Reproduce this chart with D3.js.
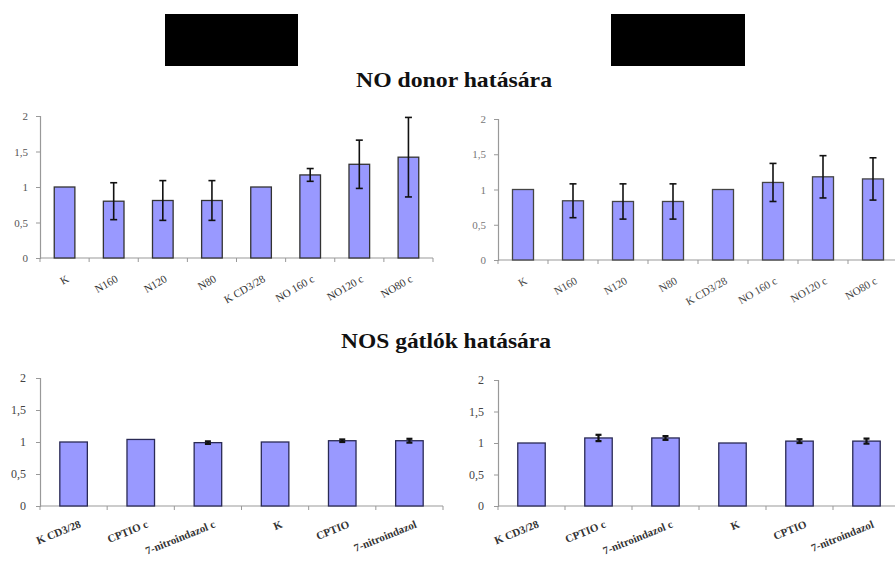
<!DOCTYPE html>
<html>
<head>
<meta charset="utf-8">
<script src="https://cdn.jsdelivr.net/npm/d3@7"></script>
<style>
  html, body { margin: 0; padding: 0; background: #fff; }
  svg { display: block; }
</style>
</head>
<body>
<svg id="chart" width="895" height="562"></svg>
<script>
// ---- data ----
const titleTop = "NO donor hatására";
const titleBottom = "NOS gátlók hatására";

const yTicks = [0, 0.5, 1, 1.5, 2];
const yTickLabels = ["0", "0,5", "1", "1,5", "2"];

const catsTop = ["K", "N160", "N120", "N80", "K CD3/28", "NO 160 c", "NO120 c", "NO80 c"];
const topLeftValues = [1.0, 0.80, 0.81, 0.81, 1.0, 1.17, 1.32, 1.42];
const topLeftErrors = [0, 0.26, 0.28, 0.28, 0, 0.09, 0.34, 0.56];
const topRightValues = [1.0, 0.84, 0.83, 0.83, 1.0, 1.10, 1.18, 1.15];
const topRightErrors = [0, 0.24, 0.25, 0.25, 0, 0.27, 0.30, 0.30];

const catsBottom = ["K CD3/28", "CPTIO c", "7-nitroindazol c", "K", "CPTIO", "7-nitroindazol"];
const bottomLeftValues = [1.0, 1.04, 0.99, 1.0, 1.02, 1.02];
const bottomLeftErrors = [0, 0, 0.02, 0, 0.02, 0.03];
const bottomRightValues = [1.0, 1.08, 1.08, 1.0, 1.03, 1.03];
const bottomRightErrors = [0, 0.05, 0.03, 0, 0.03, 0.04];

// ---- drawing ----
const svg = d3.select("#chart");
const SERIF = "'Liberation Serif'";

// redaction boxes
svg.append("rect").attr("x", 165).attr("y", 14).attr("width", 133).attr("height", 52).attr("fill", "#000");
svg.append("rect").attr("x", 611).attr("y", 14).attr("width", 134).attr("height", 52).attr("fill", "#000");

svg.append("text").attr("x", 454).attr("y", 87).attr("text-anchor", "middle")
  .style("font-family", SERIF).style("font-size", "21px").style("font-weight", "bold")
  .attr("textLength", 196).attr("lengthAdjust", "spacingAndGlyphs")
  .attr("fill", "#111").text(titleTop);
svg.append("text").attr("x", 446).attr("y", 348).attr("text-anchor", "middle")
  .style("font-family", SERIF).style("font-size", "22px").style("font-weight", "bold")
  .attr("textLength", 210).attr("lengthAdjust", "spacingAndGlyphs")
  .attr("fill", "#111").text(titleBottom);

function drawChart(cfg) {
  const g = svg.append("g");
  const x = d3.scaleBand().domain(cfg.cats).range([cfg.x0, cfg.x1])
    .paddingInner(cfg.pad).paddingOuter(cfg.pad / 2);
  const y = d3.scaleLinear().domain([0, 2]).range([cfg.y0, cfg.y2]);

  // y axis
  const yAxis = d3.axisLeft(y).tickValues(yTicks)
    .tickFormat((d, i) => yTickLabels[i]).tickSize(4).tickPadding(cfg.tickPad);
  const ya = g.append("g").attr("transform", `translate(${cfg.x0},0)`).call(yAxis);
  ya.attr("font-family", null).attr("font-size", null);
  ya.select(".domain").attr("stroke", "#999").attr("stroke-width", 1.2);
  ya.selectAll(".tick line").attr("stroke", "#999");
  ya.selectAll(".tick text").style("font-family", SERIF)
    .style("font-size", cfg.yFont + "px").attr("fill", cfg.yColor);

  // x axis line + ticks at band boundaries
  const xEnd = Math.min(cfg.x1, 895);
  g.append("line").attr("x1", cfg.x0).attr("x2", xEnd).attr("y1", cfg.y0).attr("y2", cfg.y0)
    .attr("stroke", "#999").attr("stroke-width", 1.2);
  const bounds = d3.range(cfg.cats.length + 1).map(i => cfg.x0 + i * x.step());
  g.selectAll(".xt").data(bounds.filter(b => b <= 895)).join("line")
    .attr("x1", d => d).attr("x2", d => d).attr("y1", cfg.y0).attr("y2", cfg.y0 + 4)
    .attr("stroke", "#999");

  // bars
  g.selectAll(".bar").data(cfg.values).join("rect")
    .attr("x", (d, i) => x(cfg.cats[i]))
    .attr("y", d => y(d))
    .attr("width", x.bandwidth())
    .attr("height", d => y(0) - y(d))
    .attr("fill", "#9999ff")
    .attr("stroke", cfg.barStroke).attr("stroke-width", 1.3);

  // error bars
  const eb = cfg.values.map((v, i) => ({ v, e: cfg.errors[i], c: cfg.cats[i] })).filter(d => d.e > 0);
  const cx = d => x(d.c) + x.bandwidth() / 2;
  g.selectAll(".ev").data(eb).join("line")
    .attr("x1", cx).attr("x2", cx)
    .attr("y1", d => y(d.v + d.e)).attr("y2", d => y(d.v - d.e))
    .attr("stroke", "#111").attr("stroke-width", cfg.errW);
  ["+", "-"].forEach(s => {
    g.selectAll(".ec" + (s === "+" ? "t" : "b")).data(eb).join("line")
      .attr("x1", d => cx(d) - cfg.cap).attr("x2", d => cx(d) + cfg.cap)
      .attr("y1", d => y(s === "+" ? d.v + d.e : d.v - d.e))
      .attr("y2", d => y(s === "+" ? d.v + d.e : d.v - d.e))
      .attr("stroke", "#111").attr("stroke-width", cfg.errW);
  });

  // x labels
  g.selectAll(".xl").data(cfg.cats).join("text")
    .attr("transform", d => `translate(${x(d) + x.bandwidth() / 2 + cfg.lblDx},${cfg.y0 + cfg.lblDy}) rotate(${cfg.rot})`)
    .attr("text-anchor", "end")
    .style("font-family", SERIF)
    .style("font-size", cfg.xFont + "px").attr("fill", cfg.xColor)
    .style("font-weight", cfg.xWeight)
    .text(d => d);
}

drawChart({ cats: catsTop, values: topLeftValues, errors: topLeftErrors,
  x0: 40, x1: 433, y0: 258, y2: 116, pad: 0.58, tickPad: 8, yFont: 11, yColor: "#555",
  barStroke: "#333", errW: 1.6, cap: 3.5, lblDx: 5, lblDy: 23, rot: -30, xFont: 11, xColor: "#333", xWeight: "normal" });

drawChart({ cats: catsTop, values: topRightValues, errors: topRightErrors,
  x0: 498, x1: 898, y0: 260, y2: 119, pad: 0.58, tickPad: 8, yFont: 11, yColor: "#777",
  barStroke: "#444", errW: 1.6, cap: 3.5, lblDx: 5, lblDy: 23, rot: -30, xFont: 11, xColor: "#444", xWeight: "normal" });

drawChart({ cats: catsBottom, values: bottomLeftValues, errors: bottomLeftErrors,
  x0: 40, x1: 443, y0: 506, y2: 378, pad: 0.59, tickPad: 10, yFont: 12, yColor: "#444",
  barStroke: "#2a2a55", errW: 2.2, cap: 3, lblDx: 8, lblDy: 21, rot: -22, xFont: 11, xColor: "#333", xWeight: "bold" });

drawChart({ cats: catsBottom, values: bottomRightValues, errors: bottomRightErrors,
  x0: 498, x1: 900, y0: 506, y2: 380, pad: 0.59, tickPad: 10, yFont: 12, yColor: "#444",
  barStroke: "#2a2a55", errW: 2.2, cap: 3, lblDx: 8, lblDy: 21, rot: -22, xFont: 11, xColor: "#333", xWeight: "bold" });
</script>
</body>
</html>
